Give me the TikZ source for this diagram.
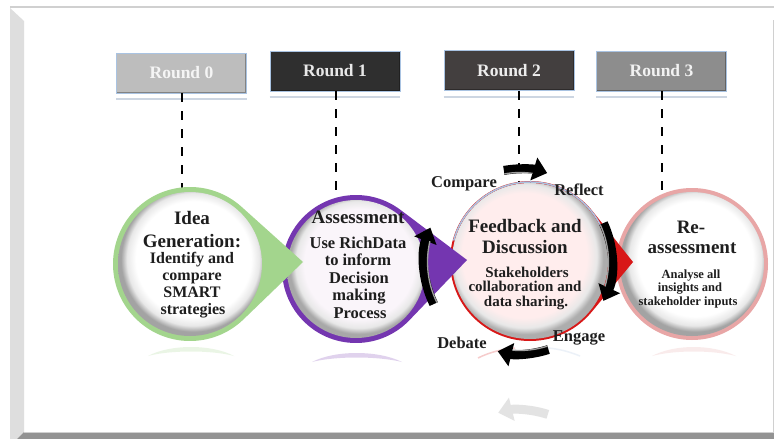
\documentclass[tikz,border=0pt]{standalone}
\usepackage{fontspec}
\setmainfont{Liberation Serif}
\usetikzlibrary{arrows.meta,calc}

\definecolor{ringgreen}{HTML}{A3D58D}
\definecolor{ringpurple}{HTML}{7436B0}
\definecolor{ringpink}{HTML}{E8A6A6}
\definecolor{ringred}{HTML}{D81818}
\definecolor{edgeblue}{HTML}{A9C3E2}
\definecolor{txt}{HTML}{1E1E1E}
\definecolor{rzfill}{HTML}{BDBDBD}
\definecolor{rafill}{HTML}{2F2F2F}
\definecolor{rbfill}{HTML}{433F3F}
\definecolor{rcfill}{HTML}{8D8D8D}
\definecolor{boxshadow}{HTML}{CDD6E2}
\definecolor{frameside}{HTML}{DEDEDE}
\definecolor{framebase}{HTML}{939393}
\definecolor{frameline}{HTML}{D0D0D0}

% soft inner shadow of the round "beads"
\pgfdeclareradialshading{beadwhite}{\pgfpoint{2bp}{3bp}}{color(0bp)=(white); color(20bp)=(white); color(23bp)=(black!9); color(25bp)=(black!36); color(50bp)=(black!36)}
\pgfdeclareradialshading{beadlilac}{\pgfpoint{2bp}{3bp}}{color(0bp)=(violet!4); color(20bp)=(violet!4); color(23bp)=(black!9); color(25bp)=(black!34); color(50bp)=(black!34)}
\pgfdeclareradialshading{beadpink}{\pgfpoint{-3bp}{3bp}}{color(0bp)=(red!7); color(20bp)=(red!7); color(23bp)=(black!9); color(25bp)=(black!32); color(50bp)=(black!32)}

% circle of centre (#1,#2), radius #3, with a pointed corner at (#4,#5)
\newcommand\droppath[6]{%
  \pgfmathsetmacro\dphi{atan2((#5)-(#2),(#4)-(#1))}%
  \pgfmathsetmacro\dlen{veclen((#4)-(#1),(#5)-(#2))}%
  \pgfmathsetmacro\dalpha{acos((#3)/\dlen)}%
  \pgfmathsetmacro\dstart{\dphi+\dalpha}%
  \pgfmathsetmacro\dend{\dphi-\dalpha+360}%
  \fill[#6] (#4,#5) -- ($(#1,#2)+(\dstart:#3)$) arc[start angle=\dstart, end angle=\dend, radius=#3] -- cycle;}

\begin{document}
\begin{tikzpicture}[x=1pt,y=-1pt,
  roundbox/.style={minimum width=130pt, minimum height=40pt, inner sep=0pt,
    draw=edgeblue, line width=0.8pt,
    font=\bfseries\fontsize{17.5}{17.5}\selectfont,
    path picture={\draw[line width=3pt, black, opacity=.3]
      (path picture bounding box.north east) -- (path picture bounding box.south east)
      -- (path picture bounding box.south west);}},
  dashline/.style={line width=2.8pt, dash pattern=on 9pt off 9pt},
  hd/.style={anchor=base, inner sep=0pt, text=txt, font=\bfseries\fontsize{19}{19}\selectfont},
  bodytext/.style={anchor=base, inner sep=0pt, text=txt, font=\bfseries\fontsize{#1}{#1}\selectfont},
  lbl/.style={anchor=base, inner sep=0pt, text=txt, font=\bfseries\fontsize{16.5}{16.5}\selectfont},
  cycarrow/.style={line width=9pt, black, -{Triangle[width=23pt,length=14pt]}},
  cycshine/.style={line width=1.3pt, gray!75},
  ghostarrow/.style={line width=9pt, gray!22, -{Triangle[width=23pt,length=14pt]}},
  mirror/.style={opacity=.22}]

\useasboundingbox (0,0) rectangle (774,439);
\fill[white] (0,0) rectangle (774,439);

% frame of the slide
\fill[frameside] (10,8) -- (24,21) -- (24,432) -- (17,439) -- (10,439) -- cycle;
\fill[framebase] (17,439) -- (24,432) -- (774,432) -- (774,439) -- cycle;
\draw[frameline, line width=1pt] (24,432.5) -- (774,432.5);
\draw[frameline, line width=1.2pt] (10,7) -- (774,7);
\draw[frameline, line width=1pt] (773,20) -- (773,432);

% round headers
\node[roundbox, fill=rzfill, text=white!96!black] (r0) at (181.5,73) {Round 0};
\node[roundbox, fill=rafill, text=white!91!black] (r1) at (335,71) {Round 1};
\node[roundbox, fill=rbfill, text=white!93!black] (r2) at (509,70.5) {Round 2};
\node[roundbox, fill=rcfill, text=white!95!black] (r3) at (661.5,71) {Round 3};
\foreach \b in {r0,r1,r2,r3}
  \draw[boxshadow, line width=2pt] ([yshift=-6pt]\b.south west) -- ([yshift=-6pt]\b.south east);

% dashed drop lines
\coordinate (d0) at (182,190);
\coordinate (d1) at (336,200);
\coordinate (d2) at (519,183);
\coordinate (d3) at (662,192);
\draw[dashline] (r0.south -| d0) -- (d0);
\draw[dashline] (r1.south -| d1) -- (d1);
\draw[dashline] (r2.south -| d2) -- (d2);
\draw[dashline] (r3.south -| d3) -- (d3);

% mirrored glow under the circles
\fill[ringgreen, mirror] (148,356) .. controls (170,344) and (212,344) .. (234,356) .. controls (212,350) and (170,350) .. (148,356) -- cycle;
\fill[ringpurple, mirror] (312,362) .. controls (335,350) and (378,350) .. (402,362) .. controls (378,356) and (335,356) .. (312,362) -- cycle;
\fill[ringpink, mirror] (652,356) .. controls (675,344) and (712,344) .. (736,356) .. controls (712,350) and (675,350) .. (652,356) -- cycle;
\draw[ringred, mirror, line width=1.5pt] (478,358) .. controls (490,352) and (503,349) .. (515,348);
\draw[edgeblue, mirror, line width=1.5pt] (548,348) .. controls (560,349) and (570,352) .. (580,356);

% Re-assessment
\fill[ringpink] (692,264) circle[radius=76];
\shade[shading=beadwhite] (692,264) circle[radius=72];

% Feedback and Discussion
\droppath{530}{261}{80}{633}{262}{ringred}
\shade[shading=beadpink] (530,261) circle[radius=78];
\draw[edgeblue, line width=1.5pt] ($(530,261)+(-25:79)$) arc[start angle=-25, end angle=-165, radius=79];

% Assessment
\droppath{356}{269}{74}{467}{260}{ringpurple}
\shade[shading=beadlilac] (356,269) circle[radius=69];

% Idea Generation
\droppath{190}{264}{77}{303}{262}{ringgreen}
\shade[shading=beadwhite] (190,264) circle[radius=72];

% texts in the circles
\node[hd] (c1a) at (192,224) {Idea};
\node[hd] (c1b) at (192,247) {Generation:};
\node[bodytext=16] (c1c) at (192,263) {Identify and};
\node[bodytext=16] (c1d) at (192,280) {compare};
\node[bodytext=16] (c1e) at (192,297) {SMART};
\node[bodytext=16] (c1f) at (193,314) {strategies};

\node[hd] (c2a) at (358,223) {Assessment};
\node[bodytext=16.5] (c2b) at (358,248) {Use RichData};
\node[bodytext=16.5] (c2c) at (358,265.5) {to inform};
\node[bodytext=16.5] (c2d) at (359,283) {Decision};
\node[bodytext=16.5] (c2e) at (359,300.5) {making};
\node[bodytext=16.5] (c2f) at (360,318) {Process};

\node[hd] (c3a) at (525,232) {Feedback and};
\node[hd] (c3b) at (525,253) {Discussion};
\node[bodytext=15] (c3c) at (527,277) {Stakeholders};
\node[bodytext=15] (c3d) at (525,291.5) {collaboration and};
\node[bodytext=15] (c3e) at (526,306) {data sharing.};

\node[hd] (c4a) at (691,233) {Re-};
\node[hd] (c4b) at (692,253) {assessment};
\node[bodytext=12.5] (c4c) at (691,278) {Analyse all};
\node[bodytext=12.5] (c4d) at (690,291.5) {insights and};
\node[bodytext=12.5] (c4e) at (688,305) {stakeholder inputs};

% discussion cycle
\coordinate (cyc) at (520,262);
\draw[cycarrow] ($(cyc)+(-100:93)$) arc[start angle=-100, end angle=-73, radius=93];
\draw[cycarrow] ($(cyc)+(-25:92)$) arc[start angle=-25, end angle=25, radius=92];
\draw[cycarrow] ($(cyc)+(72:92)$) arc[start angle=72, end angle=104, radius=92];
\draw[cycarrow] ($(cyc)+(154:96)$) arc[start angle=154, end angle=201, radius=96];
\draw[cycshine] ($(cyc)+(-100:89.5)$) arc[start angle=-100, end angle=-82, radius=89.5];
\draw[cycshine] ($(cyc)+(-25:88.5)$) arc[start angle=-25, end angle=16, radius=88.5];
\draw[cycshine] ($(cyc)+(72:88.5)$) arc[start angle=72, end angle=95, radius=88.5];
\draw[cycshine] ($(cyc)+(154:92.5)$) arc[start angle=154, end angle=193, radius=92.5];
\coordinate (ghost) at (520,500);
\draw[ghostarrow] ($(ghost)+(-72:90)$) arc[start angle=-72, end angle=-104, radius=90];

\node[lbl] (lcmp) at (464,187) {Compare};
\node[lbl] (lrfl) at (579,195) {Reflect};
\node[lbl] (ldbt) at (462,348) {Debate};
\node[lbl] (leng) at (579,341) {Engage};
\end{tikzpicture}
\end{document}
